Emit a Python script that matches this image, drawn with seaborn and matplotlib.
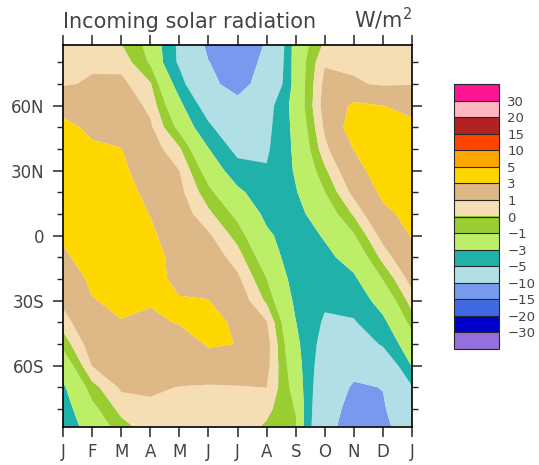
import matplotlib.pyplot as plt
import numpy as np
import seaborn as sns
from matplotlib.colors import BoundaryNorm, ListedColormap

months = ["J", "F", "M", "A", "M", "J", "J", "A", "S", "O", "N", "D", "J"]
lats = [88, 80, 70, 60, 50, 40, 30, 20, 10, 0, -10, -20, -30, -40, -50, -60, -70, -80, -88]

# anomaly in W/m2, one list per month, north -> south
jan = [0.5, 0.7, 0.85, 2.5, 3.4, 3.9, 4.2, 3.87, 3.55, 3.22, 2.75, 2.03, 1.31, 0.44, -0.61, -2.1, -3.27, -3.84, -4.3]
feb = [0.6, 0.8, 1.17, 1.94, 2.7, 3.22, 3.58, 3.94, 4.3, 3.96, 3.63, 3.29, 2.92, 2.29, 1.66, 1.04, -0.41, -1.39, -2.0]
mar = [0.05, 0.64, 1.3, 1.88, 2.47, 3.03, 3.37, 3.72, 4.06, 4.4, 4.04, 3.68, 3.32, 2.94, 2.35, 1.76, 1.18, 0.35, -0.4]
apr = [-1.4, -1.15, 0.11, 0.7, 1.21, 1.64, 2.07, 2.51, 2.94, 3.33, 3.72, 3.51, 3.14, 2.68, 2.17, 1.66, 1.15, 0.81, 0.6]
may = [-5.5, -5.4, -3.87, -2.46, -1.37, 0.16, 1.01, 1.34, 1.66, 1.99, 2.31, 2.64, 3.1, 3.1, 2.26, 1.6, 0.97, 0.71, 0.5]
jun = [-10.8, -9.9, -9.2, -6.26, -4.53, -2.93, -1.7, -0.64, 0.25, 1.19, 1.82, 2.45, 3.04, 3.37, 3.13, 2.4, 0.8, 0.65, 0.55]
jul = [-12.3, -11.8, -11.2, -8.96, -7.32, -5.67, -4.06, -2.58, -1.35, -0.4, 0.47, 1.25, 1.86, 2.8, 2.98, 1.74, 0.94, 0.69, 0.6]
aug = [-9.7, -9.2, -8.5, -6.0, -5.6, -5.3, -4.84, -4.13, -3.43, -2.66, -1.82, -0.98, -0.2, 1.08, 1.48, 1.36, 1.01, 0.28, -0.15]
sep = [-2.0, -2.0, -2.1, -2.1, -2.4, -2.6, -2.8, -3.13, -3.57, -4.0, -4.16, -3.76, -3.36, -2.95, -2.48, -2.01, -1.54, -1.07, -0.8]
oct_ = [0.2, 0.9, 1.33, 1.52, 1.2, 0.67, -0.21, -1.02, -1.92, -2.82, -3.47, -4.07, -4.66, -5.29, -5.96, -6.63, -7.3, -7.96, -8.5]
nov = [0.5, 0.75, 1.15, 3.37, 4.0, 3.05, 2.21, 1.37, 0.14, -1.13, -2.24, -3.29, -4.19, -5.19, -6.91, -8.64, -10.5, -11.5, -12.0]
dec = [0.5, 0.7, 0.85, 3.02, 3.57, 4.12, 4.06, 3.39, 2.55, 1.46, 0.35, -0.95, -2.19, -3.42, -4.66, -7.39, -9.9, -10.4, -10.8]
jan_next = [0.5, 0.69, 0.93, 2.5, 3.4, 3.6, 4.0, 3.99, 3.57, 3.14, 2.39, 1.48, 0.48, -0.53, -1.63, -2.88, -5.16, -6.74, -8.0]

levels = [-30, -20, -15, -10, -5, -3, -1, 0, 1, 3, 5, 10, 15, 20, 30]
level_labels = ["\u221230", "\u221220", "\u221215", "\u221210", "\u22125", "\u22123", "\u22121",
                "0", "1", "3", "5", "10", "15", "20", "30"]
band_colors = ["#0000CD", "#4169E1", "#7799EE", "#B0E0E6", "#20B2AA", "#BCEE68", "#9ACD32",
               "#F5DEB3", "#DEB887", "#FFD700", "#FFA500", "#FF4500", "#B22222", "#FFB6C1"]
under_color = "#9370DB"
over_color = "#FF1493"

sns.set_style("ticks")
plt.rcParams["font.family"] = ["DejaVu Sans"]
text_color = "#444444"

field = np.array([jan, feb, mar, apr, may, jun, jul, aug, sep, oct_, nov, dec, jan_next]).T

cmap = ListedColormap(band_colors)
cmap.set_under(under_color)
cmap.set_over(over_color)
norm = BoundaryNorm(levels, cmap.N)

W, H = 539, 465
fig = plt.figure(figsize=(W / 100, H / 100), dpi=100)
ax = fig.add_axes([63 / W, 38 / H, 349 / W, 382 / H])

cf = ax.contourf(np.arange(len(months)), lats, field, levels=levels,
                 cmap=cmap, norm=norm, extend="both", antialiased=True)

ax.set_xlim(0, 12)
ax.set_ylim(-88.3, 88)
ax.set_xticks(np.arange(len(months)), labels=months)
ax.set_yticks([60, 30, 0, -30, -60], labels=["60N", "30N", "0", "30S", "60S"])
ax.set_yticks(np.arange(-80, 90, 10), minor=True)
ax.tick_params(axis="both", which="major", direction="out", length=7.5, width=1.1,
               top=True, right=True, labelsize=12, labelcolor=text_color, pad=6)
ax.tick_params(axis="x", which="major", pad=4)
ax.tick_params(axis="y", which="minor", direction="out", length=4, width=1.0, right=True)
for sp in ax.spines.values():
    sp.set_linewidth(1.2)
    sp.set_color("black")

fig.text(63 / W, 1 - 28 / H, "Incoming solar radiation", fontsize=15,
         color=text_color, ha="left", va="baseline")
fig.text(412 / W, 1 - 28 / H, "W/m$^2$", fontsize=15,
         color=text_color, ha="right", va="baseline")

# colour bar: 14 inner boxes plus the two end boxes
box = 303 / 16
cax = fig.add_axes([454 / W, (H - 368 + box) / H, 45 / W, (303 - 2 * box) / H])
cb = fig.colorbar(cf, cax=cax, extendrect=True, extendfrac=1 / 14,
                  spacing="uniform", drawedges=True)
cb.set_ticks(levels, labels=level_labels)
cb.ax.tick_params(length=0, labelsize=9.5, pad=6, labelcolor=text_color)
cb.outline.set_linewidth(0.8)
cb.dividers.set_linewidth(0.8)

fig.savefig("out.png", dpi=100)
